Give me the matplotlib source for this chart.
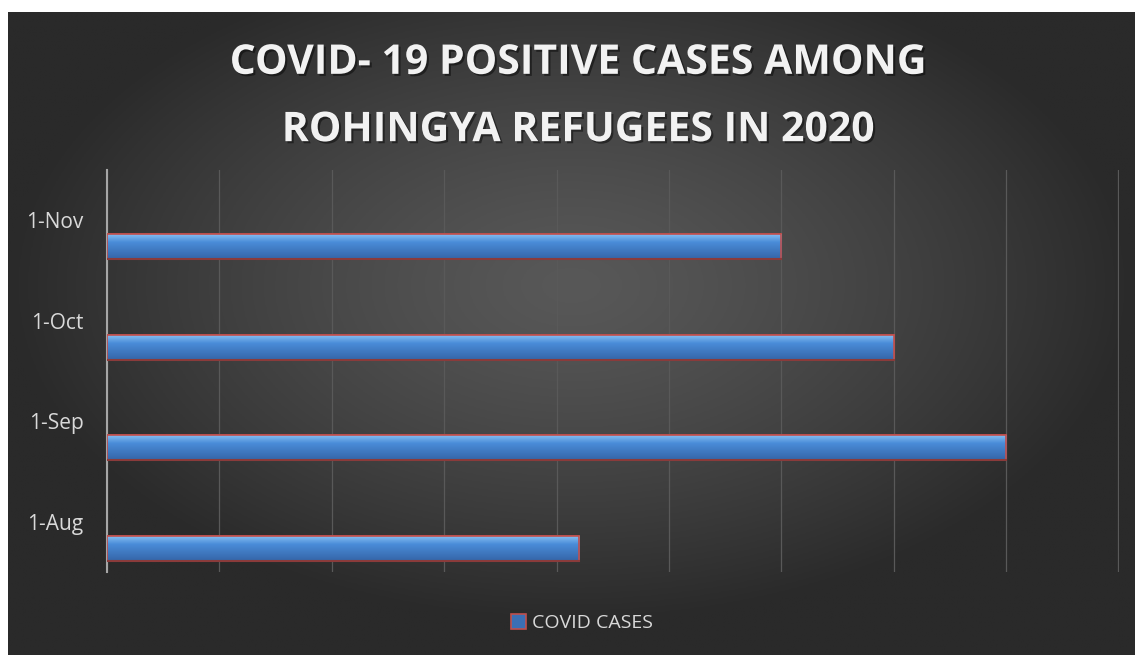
import matplotlib
matplotlib.use('Agg')
import matplotlib.pyplot as plt
import matplotlib.patheffects as pe
from matplotlib.patches import Rectangle
import numpy as np

plt.rcParams['font.family'] = ['Open Sans', 'DejaVu Sans']

# data
months = ['1-Aug', '1-Sep', '1-Oct', '1-Nov']
cases = [4.2, 8, 7, 6]
series_name = 'COVID CASES'
title = 'COVID- 19 POSITIVE CASES AMONG\nROHINGYA REFUGEES IN 2020'

W, H = 1137, 655
fig = plt.figure(figsize=(W / 100, H / 100), dpi=100, facecolor='white')

# chart area background (radial gradient)
x0 = 8 / W
bg = fig.add_axes([x0, 0, 1 - x0 - 2 / W, 1 - 12 / H])
bg.set_axis_off()
gx, gy = np.meshgrid(np.linspace(-1, 1, 400), np.linspace(-1, 1, 240))
r = np.sqrt((gx / 1.0) ** 2 + ((gy + 0.15) / 1.05) ** 2)
r = np.clip(r, 0, 1) ** 1.3
c_in, c_out = np.array([0x58, 0x58, 0x58]) / 255, np.array([0x2a, 0x2a, 0x2a]) / 255
img = c_in[None, None, :] * (1 - r[..., None]) + c_out[None, None, :] * r[..., None]
bg.imshow(img, aspect='auto', extent=[0, 1, 0, 1], origin='upper')
bg.set_xlim(0, 1)
bg.set_ylim(0, 1)

# plot area
ax = fig.add_axes([107 / W, 1 - 572 / H, (1119 - 107) / W, (572 - 170) / H])
ax.patch.set_alpha(0)
y = np.arange(len(months))
bar_off = -0.264
bar_h = 0.25
bars = ax.barh(y + bar_off, cases, height=bar_h, color='#3c6fb4',
               edgecolor='#c0504d', linewidth=1.2, zorder=3, label=series_name)

# vertical gradient inside bars
grad = np.linspace(0, 1, 64)
top_c = np.array([0x8c, 0xc4, 0xf5]) / 255
mid_c = np.array([0x4a, 0x8c, 0xd8]) / 255
bot_c = np.array([0x35, 0x65, 0xa8]) / 255
col = np.where(grad[:, None] < 0.35,
               top_c + (mid_c - top_c) * (grad[:, None] / 0.35),
               mid_c + (bot_c - mid_c) * ((grad[:, None] - 0.35) / 0.65))
bar_img = col[:, None, :].repeat(2, axis=1)
for b in bars:
    bx, by, bw, bh = b.get_x(), b.get_y(), b.get_width(), b.get_height()
    im = ax.imshow(bar_img, aspect='auto', extent=[bx, bx + bw, by, by + bh],
                   origin='upper', zorder=3.5)
    im.set_clip_path(b)
    ax.add_patch(Rectangle((bx, by), bw, bh, fill=False, edgecolor='#c0504d',
                           linewidth=1.2, zorder=4))
    ax.plot([bx, bx + bw], [by, by], color='#8a3b3b', lw=1.5, zorder=4.2)

ax.set_xlim(0, 9.005)
ax.set_ylim(-0.5, 3.5)
ax.set_xticks(np.arange(0, 10))
ax.xaxis.grid(True, color='#595959', lw=0.9)
ax.set_axisbelow(True)
ax.tick_params(axis='x', length=0, labelbottom=False)
ax.tick_params(axis='y', length=0, pad=17, labelsize=15, labelcolor='#d9d9d9')
ax.set_yticks(y)
ax.set_yticklabels(months)
for s in ['top', 'right', 'bottom']:
    ax.spines[s].set_visible(False)
ax.spines['left'].set_color('#a6a6a6')
ax.spines['left'].set_linewidth(1.5)

fig.text(578 / W, 1 - 97 / H, title, ha='center', va='center',
         fontsize=29.5, fontweight='bold', color='#f2f2f2', linespacing=1.85,
         path_effects=[pe.withSimplePatchShadow(offset=(1.5, -1.5), shadow_rgbFace='black', alpha=0.45)])

# legend
leg = fig.legend(handles=[bars], labels=[series_name], loc='center',
                 bbox_to_anchor=(582 / W, 1 - 623 / H), frameon=False,
                 fontsize=14, labelcolor='#d9d9d9', handlelength=0.8,
                 handleheight=0.8, handletextpad=0.3)

fig.savefig('out.png', dpi=100, facecolor='white')
